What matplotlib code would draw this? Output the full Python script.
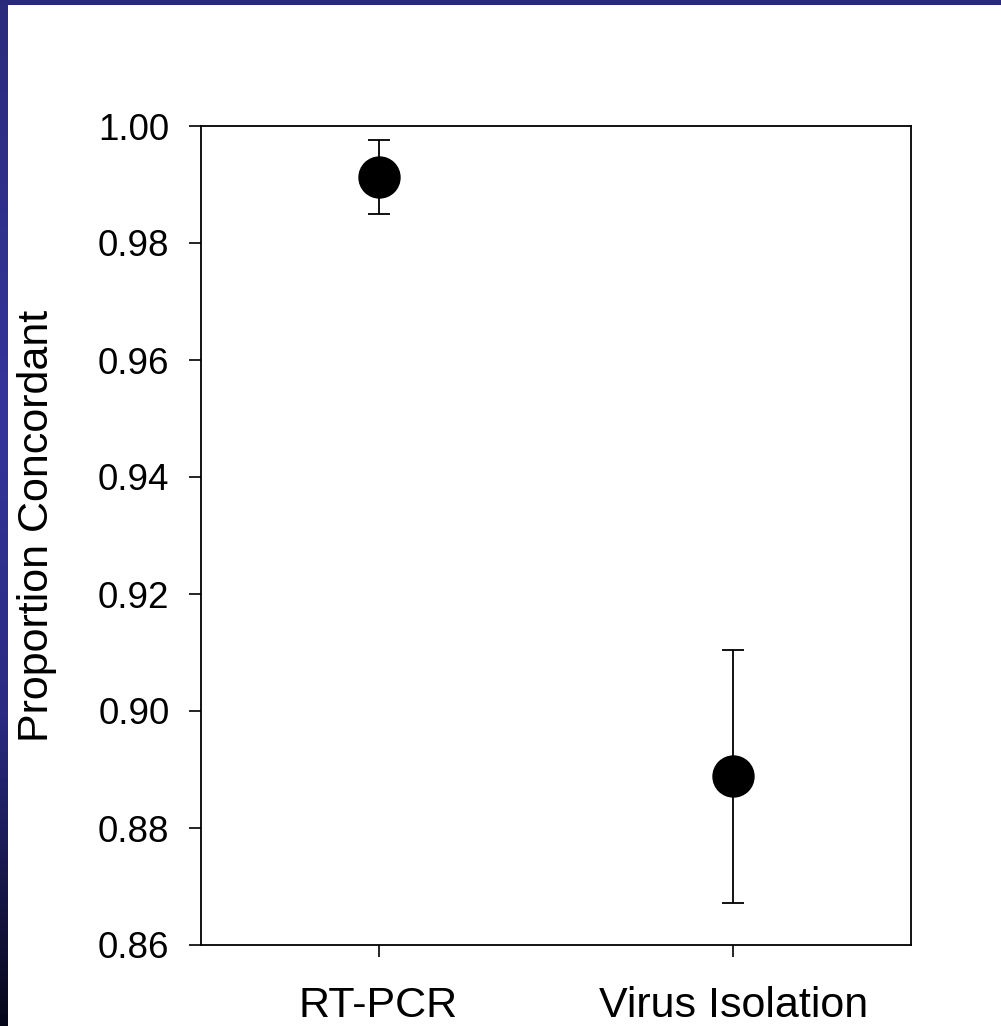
import numpy as np
import matplotlib
matplotlib.use("Agg")
import matplotlib.pyplot as plt
from matplotlib.colors import LinearSegmentedColormap

categories = ["RT-PCR", "Virus Isolation"]
values = [0.9913, 0.8889]
upper = [0.9976, 0.9104]
lower = [0.9850, 0.8672]
yticks = [0.86, 0.88, 0.90, 0.92, 0.94, 0.96, 0.98, 1.00]

plt.rcParams['font.family'] = ['Liberation Sans', 'DejaVu Sans']

W, H = 1001, 1026
fig = plt.figure(figsize=(W / 100, H / 100), dpi=100)
fig.patch.set_facecolor('white')

# decorative slide border: gradient left band and top band
cmap = LinearSegmentedColormap.from_list(
    'band', [(0.0, '#2b2b7c'), (0.4, '#34349b'), (0.7, '#2a2a82'), (1.0, '#07071a')])
band = fig.add_axes([0, 0, 8 / W, 1])
band.imshow(np.linspace(0, 1, 256).reshape(-1, 1), aspect='auto', cmap=cmap,
            extent=[0, 1, 1, 0])
band.axis('off')
top = fig.add_axes([0, 1 - 5 / H, 1, 5 / H])
top.set_facecolor('#29297a')
top.set_xticks([]); top.set_yticks([])
for s in top.spines.values():
    s.set_visible(False)

ax = fig.add_axes([201 / W, 1 - 945 / H, (911 - 201) / W, (945 - 126) / H])
x = np.arange(1, len(categories) + 1)
v = np.array(values)
yerr = np.vstack([v - np.array(lower), np.array(upper) - v])
ax.errorbar(x, v, yerr=yerr, fmt='o', color='black', ecolor='black',
            markersize=29.5, elinewidth=1.3, capsize=8, capthick=1.3)
ax.set_xlim(0.5, 2.5)
ax.set_ylim(0.86, 1.00)
ax.set_yticks(yticks)
ax.set_yticklabels([f"{t:.2f}" for t in yticks], fontsize=26.5)
ax.set_xticks(x)
ax.set_xticklabels(categories, fontsize=31)
ax.tick_params(axis='both', direction='out', length=8.6, width=1.2, color='black')
ax.tick_params(axis='y', pad=14)
ax.tick_params(axis='x', pad=21)
for s in ax.spines.values():
    s.set_linewidth(1.3)
ax.set_ylabel("Proportion Concordant", fontsize=31)
ax.yaxis.set_label_coords(-(201 - 37) / 710, 0.5116)
ax.yaxis.label.set_va('center')

fig.savefig('out.png', dpi=100, facecolor='white')
